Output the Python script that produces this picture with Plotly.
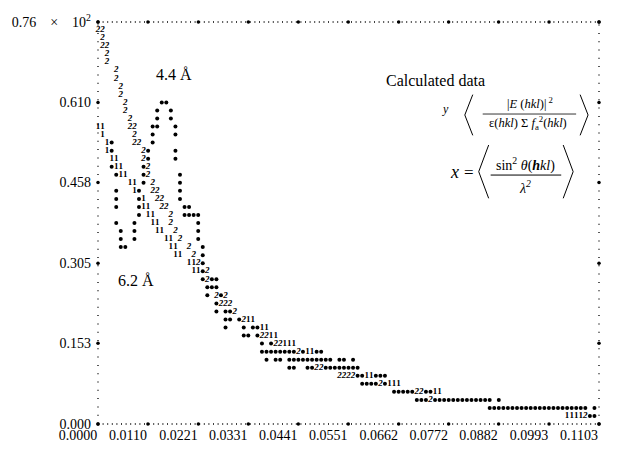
import plotly.graph_objects as go

# ---------------- data (line-printer plot: values on the printer grid) ----------------
# grid units: one column = 0.1103/110 on x, one row = 0.7625/50 on y
X_STEP = 0.1103 / 110
Y_STEP = 0.7625 / 50

# observed data ('*')
star_rows = [40, 39, 38, 37, 36, 35, 34, 33, 32, 31, 30, 29, 28, 27, 26, 25, 24, 23, 22, 21,
             20, 19, 18, 17, 16, 15, 14, 13, 12, 11, 10, 9, 8, 7, 6, 5, 4, 3, 2, 1]
star_cols = [
    [14, 15], [13, 16], [13, 16], [12, 13, 17], [12, 17], [3, 12], [3, 11, 17], [11, 17],
    [3, 10], [4, 10, 18], [10, 18], [4, 9, 18], [4, 9, 18], [4, 9, 19, 20],
    [9, 19, 20, 21, 22], [4, 8, 22], [5, 8, 22], [5, 8, 22], [5, 6, 23], [23],
    [23], [23], [23, 25, 26], [24, 25, 26], [24, 27], [26], [26, 28, 29], [28, 29, 31],
    [28, 32, 34, 35], [32, 33, 35], [36, 38],
    [36, 37, 38, 39, 40, 41, 42, 43, 45, 48, 49],
    [37, 39, 40, 42, 43, 44, 45, 46, 47, 48, 49, 50, 51, 53, 54, 56],
    [42, 43, 46, 47, 50, 51, 52, 53, 54, 55, 56, 57],
    [57, 58, 61, 62, 63],
    [58, 59, 60, 61, 63],
    [65, 66, 67, 68, 69, 72, 73],
    [70, 71, 72, 74, 75, 76, 77, 78, 79, 80, 81, 82, 83, 84, 85, 86, 88],
    [86, 87, 88, 89, 90, 91, 92, 93, 94, 95, 96, 97, 98, 99, 100, 101, 102, 103, 104, 105,
     106, 107, 109],
    [108, 109, 110],
]

# calculated curve 1 ('1')
one_rows = [37, 36, 35, 34, 33, 32, 31, 30, 29, 28, 27, 26, 25, 24, 23, 22, 21, 20, 19,
            13, 12, 11, 10, 9, 6, 5, 4, 1]
one_cols = [
    [0, 1], [1], [2], [2], [3, 4], [4, 5], [5, 6], [7, 8], [8], [10], [10, 11], [11, 12],
    [12, 13], [13, 14], [15, 16], [16, 17], [17, 18], [20, 21], [21, 22],
    [33, 34], [36, 37], [38, 39], [41, 42, 43], [46, 47], [59, 60], [64, 65, 66], [74, 75],
    [103, 104, 105, 106],
]

# calculated curve 2 ('2')
two_rows = [49, 48, 47, 46, 45, 44, 43, 42, 41, 40, 39, 38, 37, 36, 35, 34, 33, 32, 31, 30,
            29, 28, 27, 26, 25, 24, 23, 22, 21, 20, 19, 18, 16, 15, 14, 13, 11, 10, 9, 7,
            6, 5, 4, 3, 1]
two_cols = [
    [0, 1], [1], [1, 2], [2], [2], [4], [4], [5], [5], [6], [6], [7], [7, 8], [8], [8, 9],
    [10], [10], [11], [11], [12], [12, 13], [13, 14], [14, 15], [16], [16], [17], [18],
    [20], [21], [22], [24], [24], [26, 28], [27, 28, 29], [30], [32], [36, 37], [39, 40],
    [44], [48, 49], [53, 54, 55, 56], [62], [70, 71], [73], [107],
]

x_tick_labels = ["0.0000", "0.0110", "0.0221", "0.0331", "0.0441", "0.0551",
                 "0.0662", "0.0772", "0.0882", "0.0993", "0.1103"]
y_tick_values = [0.0, 0.153, 0.305, 0.458, 0.610, 0.7625]
y_tick_labels = ["0.000", "0.153", "0.305", "0.458", "0.610",
                 "0.76\u2003×\u200310<sup>2</sup>"]

X_MAX = 0.1103
Y_MAX = 0.7625


def flatten(rows, cols):
    xs, ys = [], []
    for r, cs in zip(rows, cols):
        for c in cs:
            xs.append(c * X_STEP)
            ys.append(r * Y_STEP)
    return xs, ys


star_x, star_y = flatten(star_rows, star_cols)
one_x, one_y = flatten(one_rows, one_cols)
two_x, two_y = flatten(two_rows, two_cols)
x_tick_values = [float(t) for t in x_tick_labels]

SERIF = "Liberation Serif, Times New Roman, serif"

# ---------------- figure ----------------
W, H = 617, 455
ML, MR, MT, MB = 95, 18, 18, 22
PW, PH = W - ML - MR, H - MT - MB


def px(x):
    return (x - ML) / PW


def py(y):
    return (H - MB - y) / PH


fig = go.Figure()

# axis tick stars on the dotted frame
fig.add_trace(go.Scatter(x=x_tick_values + x_tick_values,
                         y=[0.0] * len(x_tick_values) + [Y_MAX] * len(x_tick_values),
                         mode="markers", marker=dict(size=3.5, color="black"),
                         cliponaxis=False, hoverinfo="skip"))
fig.add_trace(go.Scatter(x=[0.0] * len(y_tick_values) + [X_MAX] * len(y_tick_values),
                         y=y_tick_values + y_tick_values,
                         mode="markers", marker=dict(size=3.5, color="black"),
                         cliponaxis=False, hoverinfo="skip"))

fig.add_trace(go.Scatter(x=star_x, y=star_y, mode="markers", name="*",
                         marker=dict(size=4, color="black"), cliponaxis=False))
fig.add_trace(go.Scatter(x=one_x, y=one_y, mode="text", name="1", text=["1"] * len(one_x),
                         textposition="middle center",
                         textfont=dict(family=SERIF, size=9, color="black", weight="bold"),
                         cliponaxis=False))
fig.add_trace(go.Scatter(x=two_x, y=two_y, mode="text", name="2", text=["2"] * len(two_x),
                         textposition="middle center",
                         textfont=dict(family=SERIF, size=9, color="black", weight="bold",
                                       style="italic"),
                         cliponaxis=False))

shapes = []
# dotted frame
dot_h = dict(color="black", width=1.3, dash="1px,3.6px")
dot_v = dict(color="black", width=1.3, dash="1px,7.3px")
shapes.append(dict(type="line", xref="paper", yref="paper", x0=0, x1=1, y0=0, y1=0, line=dot_h))
shapes.append(dict(type="line", xref="paper", yref="paper", x0=0, x1=1, y0=1, y1=1, line=dot_h))
shapes.append(dict(type="line", xref="paper", yref="paper", x0=0, x1=0, y0=0, y1=1, line=dot_v))
shapes.append(dict(type="line", xref="paper", yref="paper", x0=1, x1=1, y0=0, y1=1, line=dot_v))


def bracket(x_tip, x_end, y_top, y_bot):
    ym = (y_top + y_bot) / 2
    return dict(type="path", xref="paper", yref="paper",
                path=f"M {px(x_end)},{py(y_top)} L {px(x_tip)},{py(ym)} L {px(x_end)},{py(y_bot)}",
                line=dict(color="black", width=1))


# formula 1 brackets and bar
shapes.append(bracket(464, 472, 93, 135))
shapes.append(bracket(588, 580, 93, 135))
shapes.append(dict(type="line", xref="paper", yref="paper", x0=px(482), x1=px(576),
                   y0=py(113), y1=py(113), line=dict(color="black", width=0.8)))
# formula 2 brackets and bar
shapes.append(bracket(478, 488, 145, 200))
shapes.append(bracket(573, 563, 145, 200))
shapes.append(dict(type="line", xref="paper", yref="paper", x0=px(490), x1=px(561),
                   y0=py(176), y1=py(176), line=dict(color="black", width=1)))


def ann(text, x, y, size, xanchor="center", italic=False):
    t = f"<i>{text}</i>" if italic else text
    return dict(text=t, x=px(x), y=py(y), xref="paper", yref="paper", showarrow=False,
                xanchor=xanchor, yanchor="middle",
                font=dict(family=SERIF, size=size, color="black"))


annotations = [
    ann("4.4 Å", 171, 72, 16),
    ann("6.2 Å", 133, 285, 16),
    ann("Calculated data", 383, 78, 16, xanchor="left"),
    ann("y", 445, 108, 12, italic=True),
    ann("|<i>E</i> (<i>hkl</i>)|<sup> 2</sup>", 530, 102, 12.5),
    ann("ε(<i>hkl</i>) Σ <i>f</i><sub>a</sub><sup>2</sup>(<i>hkl</i>)", 528, 122, 12.5),
    ann("x", 454, 173, 18, italic=True),
    ann("=", 468, 173, 17),
    ann("sin<sup>2</sup> <i>θ</i>(<i><b>h</b>kl</i>)", 525, 165, 14),
    ann("λ<sup>2</sup>", 525, 188, 14, italic=True),
]

fig.update_layout(
    width=W, height=H,
    margin=dict(l=ML, r=MR, t=MT, b=MB, pad=0),
    paper_bgcolor="white", plot_bgcolor="white",
    showlegend=False,
    shapes=shapes, annotations=annotations,
    xaxis=dict(range=[0, X_MAX], tickvals=x_tick_values, ticktext=x_tick_labels,
               showgrid=False, zeroline=False, showline=False, ticks="",
               tickfont=dict(family=SERIF, size=14, color="black"),
               ticklabelshift=-20, ticklabelstandoff=1),
    yaxis=dict(range=[0, Y_MAX], tickvals=y_tick_values, ticktext=y_tick_labels,
               showgrid=False, zeroline=False, showline=False, ticks="",
               tickfont=dict(family=SERIF, size=14, color="black"),
               ticklabelstandoff=6),
)

fig.write_html("out.html", config={"displayModeBar": False},
               post_script="document.body.style.margin='0';document.body.style.padding='0';")
